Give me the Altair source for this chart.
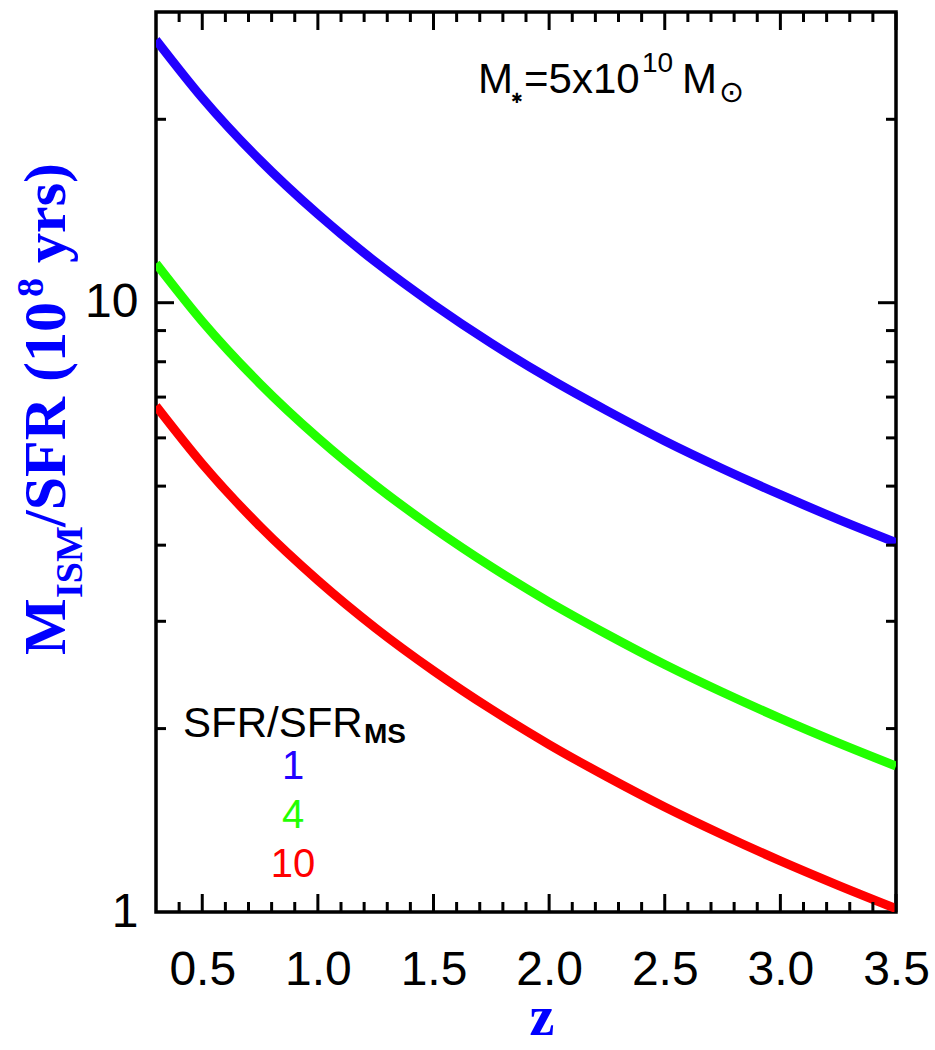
import altair as alt
import pandas as pd

# ---- data ----
z = [0.3, 0.5, 0.75, 1.0, 1.25, 1.5, 1.75, 2.0, 2.25, 2.5, 2.75, 3.0, 3.25, 3.5]
ratio_1 = [27.0, 21.69, 17.13, 13.97, 11.66, 9.93, 8.58, 7.51, 6.65, 5.93, 5.34, 4.84, 4.41, 4.04]
ratio_4 = [11.60, 9.32, 7.36, 6.00, 5.01, 4.266, 3.686, 3.226, 2.857, 2.548, 2.294, 2.079, 1.895, 1.736]
ratio_10 = [6.77, 5.44, 4.294, 3.502, 2.923, 2.489, 2.151, 1.883, 1.667, 1.487, 1.339, 1.213, 1.106, 1.013]
series_names = ["1", "4", "10"]
series_colors = ["#2200FF", "#22FF00", "#FF0000"]

x_major = [0.5, 1.0, 1.5, 2.0, 2.5, 3.0, 3.5]
x_minor = [round(0.4 + 0.1 * i, 1) for i in range(31) if round((0.4 + 0.1 * i) * 10) % 5 != 0]
y_major = [10]
y_minor = [2, 3, 4, 5, 6, 7, 8, 9, 20]
y_labels = [1, 10]

title_parts = ["M", "ISM", "/SFR (10", "8", "yrs)"]
x_title = "z"
legend_head = ["SFR/SFR", "MS"]
mass_parts = ["M", "\u2731", "=5x10", "10", "M", "\u2299"]

W, H = 740, 900
BLUE = "#0000FF"
SANS = "Liberation Sans"
SERIF = "Liberation Serif"

df = pd.DataFrame({
    "z": z * 3,
    "t": ratio_1 + ratio_4 + ratio_10,
    "s": [series_names[0]] * len(z) + [series_names[1]] * len(z) + [series_names[2]] * len(z),
})

xs = alt.Scale(domain=[0.3, 3.5], nice=False, zero=False)
ys = alt.Scale(type="log", domain=[1, 30], nice=False)

lines = alt.Chart(df).mark_line(strokeWidth=9, clip=True, interpolate="monotone").encode(
    x=alt.X("z:Q", scale=xs, axis=alt.Axis(
        values=x_major, format=".1f", tickSize=0, domain=False, grid=False,
        labelFont=SANS, labelFontSize=48, labelPadding=34, labelColor="black",
        labelFlush=False, labelOverlap=False, labelBound=False, title=None)),
    y=alt.Y("t:Q", scale=ys, axis=alt.Axis(
        values=y_labels, format="d", tickSize=0, domain=False, grid=False,
        labelFont=SANS, labelFontSize=48, labelPadding=18, labelColor="black",
        labelFlush=False, labelOverlap=False, labelBound=False, title=None)),
    color=alt.Color("s:N", scale=alt.Scale(domain=series_names, range=series_colors), legend=None),
)

def xticks(vals, length, top):
    d = pd.DataFrame({"v": vals})
    if top:
        y0, y1 = 0, length
    else:
        y0, y1 = H, H - length
    return alt.Chart(d).mark_rule(color="black", strokeWidth=3).encode(
        x=alt.X("v:Q", scale=xs), y=alt.value(y0), y2=alt.value(y1))

def yticks(vals, length, left):
    d = pd.DataFrame({"v": vals})
    if left:
        x0, x1 = 0, length
    else:
        x0, x1 = W, W - length
    return alt.Chart(d).mark_rule(color="black", strokeWidth=3).encode(
        y=alt.Y("v:Q", scale=ys), x=alt.value(x0), x2=alt.value(x1))

ticks = [
    xticks(x_major, 18, True), xticks(x_minor, 10, True),
    xticks(x_major, 18, False), xticks(x_minor, 10, False),
    yticks(y_major, 18, True), yticks(y_minor, 10, True),
    yticks(y_major, 18, False), yticks(y_minor, 10, False),
]

one = pd.DataFrame({"a": [0]})

def txt(s, x, y, size, color="black", font=SANS, bold=False, angle=0, align="left", baseline="alphabetic"):
    kw = dict(fontSize=size, color=color, font=font, align=align, baseline=baseline,
              fontWeight="bold" if bold else "normal")
    if angle:
        kw["angle"] = angle
    return alt.Chart(one).mark_text(**kw).encode(
        x=alt.value(x), y=alt.value(y), text=alt.value(s))

texts = [
    # y title (rotated)
    txt(title_parts[0], -91, 643, 60, BLUE, SERIF, True, 270),
    txt(title_parts[1], -74, 586, 38, BLUE, SERIF, True, 270),
    txt(title_parts[2], -91, 515, 60, BLUE, SERIF, True, 270),
    txt(title_parts[3], -113, 285, 38, BLUE, SERIF, True, 270),
    txt(title_parts[4], -91, 251, 60, BLUE, SERIF, True, 270),
    # x title
    txt(x_title, 386, 1023, 56, BLUE, SERIF, True, 0, "center"),
    # legend
    txt(legend_head[0], 27, 725, 42),
    txt(legend_head[1], 208, 731, 28, bold=True),
    txt(series_names[0], 137, 767, 40, series_colors[0], align="center"),
    txt(series_names[1], 137, 816, 40, series_colors[1], align="center"),
    txt(series_names[2], 137, 865, 40, series_colors[2], align="center"),
    # stellar mass annotation
    txt(mass_parts[0], 322, 81, 42),
    txt(mass_parts[1], 355, 91, 14, font="DejaVu Sans"),
    txt(mass_parts[2], 368, 81, 42),
    txt(mass_parts[3], 486, 60, 28),
    txt(mass_parts[4], 526, 81, 42),
    txt(mass_parts[5], 563, 90, 30, font="DejaVu Sans"),
]

chart = alt.layer(lines, *ticks, *texts).properties(
    width=W, height=H,
    autosize=alt.AutoSizeParams(type="none"),
    padding={"left": 156, "top": 12, "right": 39, "bottom": 138},
).configure_view(stroke="black", strokeWidth=3.5)

chart.save("out.html", embed_options={"renderer": "svg", "actions": False})
